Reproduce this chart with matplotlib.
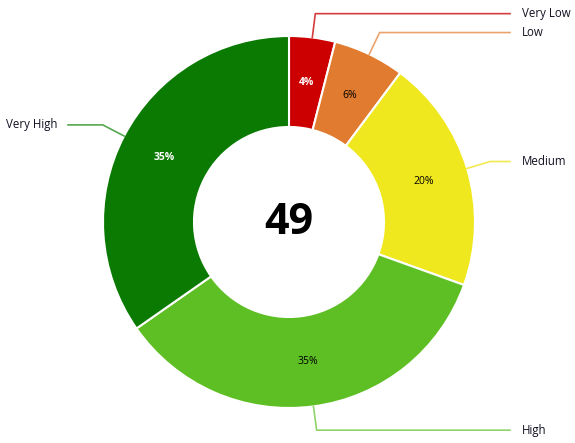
import numpy as np
import matplotlib
matplotlib.use("Agg")
import matplotlib.pyplot as plt

plt.rcParams['font.family'] = ['Open Sans', 'DejaVu Sans']

# data (slice shares, labels rounded)
categories = ["Very Low", "Low", "Medium", "High", "Very High"]
values = [4.0, 6.2, 20.3, 34.8, 34.7]
colors = ["#cc0000", "#e17b2f", "#f0e81f", "#5ebf24", "#0b7a03"]
line_colors = ["#d43c3c", "#eba36e", "#f3ea52", "#8fd46a", "#55a84f"]
pct_colors = ["white", "black", "black", "black", "white"]
center_value = "49"

W, H = 575, 443
fig = plt.figure(figsize=(W / 100, H / 100), dpi=100)
ax = fig.add_axes([0, 0, 1, 1])

cx, cy = 289, 221
R = 186
ring = 91

wedges, _ = ax.pie(values, colors=colors, startangle=90, counterclock=False,
                   center=(cx, cy), radius=R, frame=True,
                   wedgeprops=dict(width=ring, edgecolor='white', linewidth=1.5))
ax.set_xlim(0, W)
ax.set_ylim(0, H)
ax.set_aspect('equal')
ax.axis('off')

total = float(sum(values))
start = 90.0
for i, v in enumerate(values):
    span = 360.0 * v / total
    mid = np.radians(start - span / 2)
    start -= span
    # percent label in the middle of the ring
    rm = R - ring / 2
    ax.text(cx + rm * np.cos(mid), cy + rm * np.sin(mid), "%d%%" % round(v),
            ha='center', va='center', fontsize=7.5, color=pct_colors[i],
            fontweight='bold' if pct_colors[i] == 'white' else 'normal')
    # leader line with elbow
    p0 = (cx + R * np.cos(mid), cy + R * np.sin(mid))
    p1 = (cx + 210 * np.cos(mid), cy + 210 * np.sin(mid))
    if np.cos(mid) >= -0.1:
        xend = 510
        ax.plot([p0[0], p1[0], xend], [p0[1], p1[1], p1[1]],
                color=line_colors[i], lw=1.2)
        ax.text(xend + 12, p1[1], categories[i], ha='left', va='center',
                fontsize=8.3, color='#111122')
    else:
        xend = 68
        ax.plot([p0[0], p1[0], xend], [p0[1], p1[1], p1[1]],
                color=line_colors[i], lw=1.2)
        ax.text(xend - 11, p1[1], categories[i], ha='right', va='center',
                fontsize=8.3, color='#111122')

ax.text(cx, cy, center_value, ha='center', va='center', fontsize=31,
        fontweight='bold', color='black')

fig.savefig("out.png", dpi=100)
